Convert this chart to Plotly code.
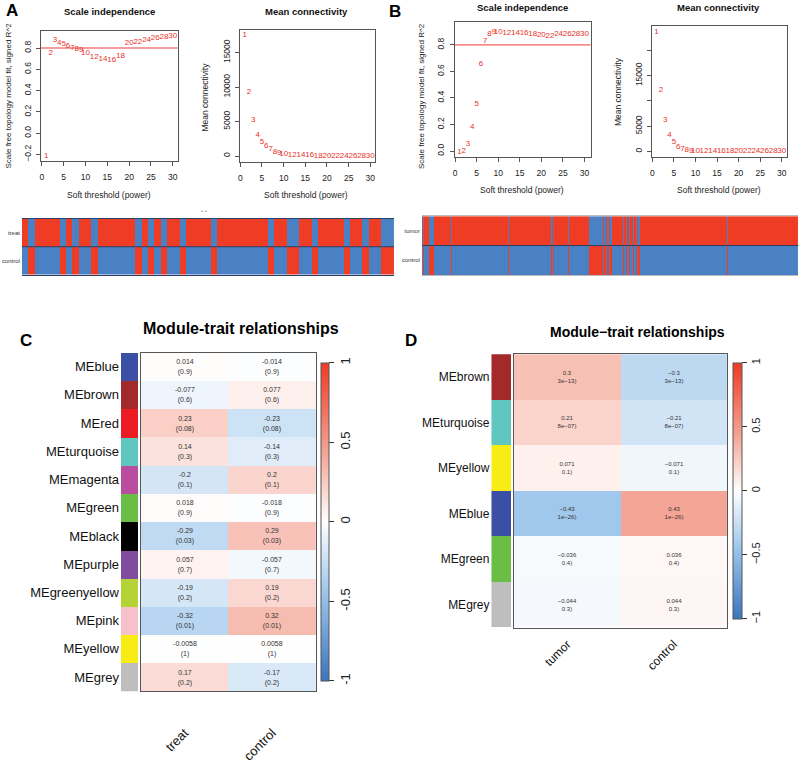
import plotly.graph_objects as go

W, H = 800, 764
FONT = "Liberation Sans, Arial, sans-serif"

# ---------------- data ----------------
powers = [1, 2, 3, 4, 5, 6, 7, 8, 9, 10, 12, 14, 16, 18, 20, 22, 24, 26, 28, 30]
a_sft_r2 = [-0.216, 0.75, 0.874, 0.85, 0.834, 0.82, 0.80, 0.79, 0.78, 0.75,
            0.72, 0.70, 0.69, 0.726, 0.85, 0.855, 0.877, 0.89, 0.90, 0.917]
a_mean_k = [17476, 9286, 5238, 3095, 2000, 1430, 950, 571, 380, 330,
            200, 130, 90, 60, 45, 35, 25, 20, 15, 12]
b_sft_r2 = [-0.005, -0.002, 0.05, 0.178, 0.357, 0.656, 0.827, 0.88, 0.90, 0.90,
            0.89, 0.89, 0.887, 0.884, 0.874, 0.87, 0.88, 0.88, 0.88, 0.88]
b_mean_k = [23636, 12078, 6234, 3312, 1818, 909, 519, 195, 130, 65,
            40, 30, 25, 20, 18, 15, 13, 12, 11, 10]
r2_cut = 0.8

# sample traits for A (1 = treat)
a_treat = [1, 0, 1, 1, 1, 1, 0, 1, 0, 1, 1, 0, 1, 1, 1, 1, 1, 1, 0, 1,
           0, 1, 0, 1, 1, 0, 1, 1, 1, 1, 0, 1, 1, 1, 1, 1, 1, 1, 1, 0,
           1, 1, 0, 0, 1, 1, 0, 1, 1, 1, 1, 0, 1, 1, 0, 1, 1, 0, 0]
# sample traits for B (1 = tumor), as runs of (status, count)
b_tumor_runs = [(1, 1), (0, 1), (1, 5), (0, 5), (1, 17), (0, 1), (1, 57), (0, 1),
                (1, 42), (0, 1), (1, 1), (0, 1), (1, 14), (0, 1), (1, 20), (0, 14),
                (1, 1), (0, 2), (1, 1), (0, 2), (1, 1), (0, 2), (1, 1), (1, 10),
                (0, 1), (1, 2), (0, 1), (1, 2), (0, 1), (1, 3), (0, 1), (1, 2),
                (0, 1), (1, 1), (0, 2), (1, 88), (0, 1), (1, 70)]
b_tumor = [s for s, n in b_tumor_runs for _ in range(n)]

c_modules = ["MEblue", "MEbrown", "MEred", "MEturquoise", "MEmagenta", "MEgreen",
             "MEblack", "MEpurple", "MEgreenyellow", "MEpink", "MEyellow", "MEgrey"]
c_colors = ["#3B4FA5", "#A3292B", "#EC1C24", "#5FC6C0", "#B94EA1", "#6ABD45",
            "#000000", "#7F4C9F", "#B5D334", "#F7C1CC", "#F7EC13", "#BEBEBE"]
c_traits = ["treat", "control"]
c_treat_r = [0.014, -0.077, 0.23, 0.14, -0.2, 0.018, -0.29, 0.057, -0.19, -0.32, -0.0058, 0.17]
c_control_r = [-0.014, 0.077, -0.23, -0.14, 0.2, -0.018, 0.29, -0.057, 0.19, 0.32, 0.0058, -0.17]
c_p = ["0.9", "0.6", "0.08", "0.3", "0.1", "0.9", "0.03", "0.7", "0.2", "0.01", "1", "0.2"]

d_modules = ["MEbrown", "MEturquoise", "MEyellow", "MEblue", "MEgreen", "MEgrey"]
d_colors = ["#A3292B", "#5FC6C0", "#F7EC13", "#3B4FA5", "#6ABD45", "#BEBEBE"]
d_traits = ["tumor", "control"]
d_tumor_r = [0.3, 0.21, 0.071, -0.43, -0.036, -0.044]
d_control_r = [-0.3, -0.21, -0.071, 0.43, 0.036, 0.044]
d_p = ["3e-13", "8e-07", "0.1", "1e-26", "0.4", "0.3"]

# ---------------- helpers ----------------
def dx(a, b):
    return [a / W, b / W]

def dy(top, bottom):
    return [1 - bottom / H, 1 - top / H]

def px(x):
    return x / W

def py(y):
    return 1 - y / H

def xid(i):
    return "x" if i == 1 else f"x{i}"

def yid(i):
    return "y" if i == 1 else f"y{i}"

def xkey(i):
    return "xaxis" if i == 1 else f"xaxis{i}"

def ykey(i):
    return "yaxis" if i == 1 else f"yaxis{i}"

RED_TXT = "#E8302A"
STRIP_RED = "#EE3D24"
STRIP_BLUE = "#4A81C4"
CSCALE = [[0, "#3A75C0"], [0.285, "#A0C8EC"], [0.5, "#FFFFFF"], [0.715, "#F4A595"], [1, "#EE3B24"]]

fig = go.Figure()
annotations = []
shapes = []

def ann(text, x, y, size, bold=False, color="#111", angle=0, xanchor="center", yanchor="middle"):
    annotations.append(dict(
        text=f"<b>{text}</b>" if bold else text, x=px(x), y=py(y), xref="paper", yref="paper",
        showarrow=False, textangle=angle, xanchor=xanchor, yanchor=yanchor,
        font=dict(size=size, color=color, family=FONT)))

base_axis = dict(showline=True, mirror=True, linecolor="#555", linewidth=1, ticks="outside",
                 ticklen=4, tickcolor="#555", tickfont=dict(size=8.5, color="#222", family=FONT),
                 showgrid=False, zeroline=False)

# ---------------- WGCNA soft-threshold scatter panels ----------------
panels = [
    (1, (39, 176), (31, 163), [-0.23, 31.1], [-0.258, 0.964], a_sft_r2,
     [-0.2, 0, 0.2, 0.4, 0.6, 0.8], ["\u22120.2", "0.0", "0.2", "0.4", "0.6", "0.8"]),
    (2, (238.7, 374), (30.7, 164), [-0.05, 31.1], [-814, 18229], a_mean_k,
     [0, 5000, 10000, 15000], ["0", "5000", "10000", "15000"]),
    (3, (454, 590), (22.3, 159.3), [-0.05, 31.4], [-0.045, 0.973], b_sft_r2,
     [0, 0.2, 0.4, 0.6, 0.8], ["0.0", "0.2", "0.4", "0.6", "0.8"]),
    (4, (651.7, 786.7), (26.7, 159.3), [-0.05, 31.15], [-1104, 24740], b_mean_k,
     [0, 5000, 10000, 15000, 20000], ["0", "5000", "", "15000", ""]),
]
layout_axes = {}
for idx, xd, yd, xr, yr, vals, ytv, ytt in panels:
    fig.add_trace(go.Scatter(
        x=powers, y=vals, mode="text", text=[str(p) for p in powers],
        textfont=dict(size=8, color=RED_TXT, family=FONT), textposition="middle center",
        xaxis=xid(idx), yaxis=yid(idx), hoverinfo="skip"))
    layout_axes[xkey(idx)] = dict(base_axis, domain=dx(*xd), range=xr, anchor=yid(idx),
                                  tickvals=[0, 5, 10, 15, 20, 25, 30], ticklabelstandoff=4)
    layout_axes[ykey(idx)] = dict(base_axis, domain=dy(*yd), range=yr, anchor=xid(idx),
                                  tickvals=ytv, ticktext=ytt, tickangle=-90, ticklabelstandoff=2)

for idx in (1, 3):
    shapes.append(dict(type="line", xref=f"{xid(idx)} domain", x0=0, x1=1, yref=yid(idx),
                       y0=r2_cut, y1=r2_cut, line=dict(color="#F03A3A", width=1)))

# titles and axis titles
ann("Scale independence", 108, 12, 9.5, bold=True)
ann("Mean connectivity", 305.7, 12, 9.5, bold=True)
ann("Scale independence", 521.7, 7.5, 9.5, bold=True)
ann("Mean connectivity", 718.3, 7.5, 9.5, bold=True)
ann("Soft threshold (power)", 107.5, 198, 8.5, color="#222")
ann("Soft threshold (power)", 305, 198, 8.5, color="#222")
ann("Soft threshold (power)", 521.7, 193, 8.5, color="#222")
ann("Soft threshold (power)", 718.3, 193, 8.5, color="#222")
ann("Scale free topology model fit, signed R^2", 7, 97, 8, color="#222", angle=-90)
ann("Mean connectivity", 203.5, 98, 8.5, color="#222", angle=-90)
ann("Scale free topology model fit, signed R^2", 420.5, 97, 8, color="#222", angle=-90)
ann("Mean connectivity", 617, 93, 8.5, color="#222", angle=-90)

# panel letters
ann("A", 10.5, 11, 17, bold=True, color="#000")
ann("B", 394, 11.5, 17, bold=True, color="#000")
ann("C", 24, 345, 17, bold=True, color="#000")
ann("D", 410.5, 345, 17, bold=True, color="#000")

# ---------------- trait strips ----------------
strip_scale = [[0, STRIP_BLUE], [0.5, STRIP_BLUE], [0.5, STRIP_RED], [1, STRIP_RED]]
for idx, vals, names, xd, yd, linecol in [
        (5, a_treat, ["control", "treat"], (20, 393), (221.7, 279), "#2B3F66"),
        (6, b_tumor, ["control", "tumor"], (421, 798.3), (219.3, 279), "#BBBBBB")]:
    n = len(vals)
    fig.add_trace(go.Heatmap(
        z=[[1 - v for v in vals], vals], x=list(range(n)), y=names,
        colorscale=strip_scale, zmin=0, zmax=1, showscale=False,
        xaxis=xid(idx), yaxis=yid(idx), hoverinfo="skip"))
    layout_axes[xkey(idx)] = dict(domain=dx(*xd), range=[-0.5, n - 0.5], anchor=yid(idx),
                                  showticklabels=False, ticks="", showgrid=False, zeroline=False,
                                  showline=True, mirror=True, linecolor=linecol, linewidth=1)
    layout_axes[ykey(idx)] = dict(domain=dy(*yd), anchor=xid(idx), ticks="", showgrid=False,
                                  zeroline=False, tickfont=dict(size=6, color="#333", family=FONT),
                                  ticklabelstandoff=1)
    shapes.append(dict(type="line", xref=f"{xid(idx)} domain", x0=0, x1=1, yref=yid(idx),
                       y0=0.5, y1=0.5, line=dict(color="#2B3F66", width=1)))

ann("\u2022 \u2022", 203, 214, 6, color="#999")

# ---------------- module-trait heatmaps ----------------
def heat_panel(side_idx, heat_idx, modules, colors, traits, r1, r2, ptxt, minus,
               side_x, heat_x, yd, label_size, cell_size, xlab_size, xlab_standoff,
               cb_x, cb_thick, cb_top, cb_bottom, cb_font):
    n = len(modules)
    if minus:
        fmt = lambda v: str(v).replace("-", "\u2212")
        texts = [[f"{fmt(a)}<br>{fmt(p)})", f"{fmt(b)}<br>{fmt(p)})"]
                 for a, b, p in zip(r1, r2, ptxt)]
        cb_ticktext = ["\u22121", "\u22120.5", "0", "0.5", "1"]
    else:
        texts = [[f"{a}<br>({p})", f"{b}<br>({p})"] for a, b, p in zip(r1, r2, ptxt)]
        cb_ticktext = ["-1", "-0.5", "0", "0.5", "1"]
    fig.add_trace(go.Bar(
        x=[1] * n, y=modules, orientation="h", width=1, marker=dict(color=colors, line=dict(width=0)),
        xaxis=xid(side_idx), yaxis=yid(side_idx), hoverinfo="skip"))
    fig.add_trace(go.Heatmap(
        z=[[a, b] for a, b in zip(r1, r2)], x=traits, y=modules, text=texts,
        texttemplate="%{text}", textfont=dict(size=cell_size, color="#333", family=FONT),
        colorscale=CSCALE, zmin=-1, zmax=1, xaxis=xid(heat_idx), yaxis=yid(heat_idx),
        hoverinfo="skip",
        colorbar=dict(x=px(cb_x), xanchor="left", xpad=0, ypad=0, thickness=cb_thick,
                      len=(cb_bottom - cb_top) / H, lenmode="fraction",
                      y=py((cb_top + cb_bottom) / 2), yanchor="middle",
                      outlinewidth=1, outlinecolor="#555",
                      tickvals=[-1, -0.5, 0, 0.5, 1], ticktext=cb_ticktext,
                      ticks="outside", ticklen=5, tickcolor="#333", tickangle=-90,
                      tickfont=dict(size=cb_font, color="#222", family=FONT))))
    yr = [n - 0.5, -0.5]
    layout_axes[xkey(side_idx)] = dict(domain=dx(*side_x), range=[0, 1], anchor=yid(side_idx),
                                       visible=False)
    layout_axes[ykey(side_idx)] = dict(domain=dy(*yd), range=yr, anchor=xid(side_idx),
                                       ticks="", showgrid=False, zeroline=False, showline=False,
                                       tickfont=dict(size=label_size, color="#111", family=FONT),
                                       ticklabelstandoff=1)
    layout_axes[xkey(heat_idx)] = dict(domain=dx(*heat_x), anchor=yid(heat_idx), ticks="",
                                       showgrid=False, zeroline=False, showline=True, mirror=True,
                                       linecolor="#555", linewidth=1, tickangle=-45,
                                       tickfont=dict(size=xlab_size, color="#111", family=FONT),
                                       ticklabelstandoff=xlab_standoff)
    layout_axes[ykey(heat_idx)] = dict(domain=dy(*yd), range=yr, anchor=xid(heat_idx),
                                       showticklabels=False, ticks="", showgrid=False,
                                       zeroline=False, showline=True, mirror=True,
                                       linecolor="#555", linewidth=1)

heat_panel(7, 8, c_modules, c_colors, c_traits, c_treat_r, c_control_r, c_p, False,
           (119.3, 136.7), (139.3, 314.7), (357.7, 701.3), 13, 7, 13, 28,
           320, 8.3, 368.3, 690.7, 13)
heat_panel(9, 10, d_modules, d_colors, d_traits, d_tumor_r, d_control_r, d_p, True,
           (490.7, 510.7), (513.3, 726.7), (359.3, 636.7), 12, 6, 12, 4,
           733.3, 9.4, 368.3, 627.7, 11)

ann("Module-trait relationships", 240, 333.3, 16, bold=True, color="#000")
ann("Module\u2212trait relationships", 637, 337.3, 14, bold=True, color="#000")

fig.update_layout(
    width=W, height=H, margin=dict(l=0, r=0, t=0, b=0), autosize=False,
    paper_bgcolor="white", plot_bgcolor="white", showlegend=False, bargap=0,
    font=dict(family=FONT, color="#222"),
    annotations=annotations, shapes=shapes, **layout_axes)

fig.write_html("out.html", config={"displayModeBar": False},
               post_script="document.body.style.margin='0px';document.body.style.padding='0px';")
